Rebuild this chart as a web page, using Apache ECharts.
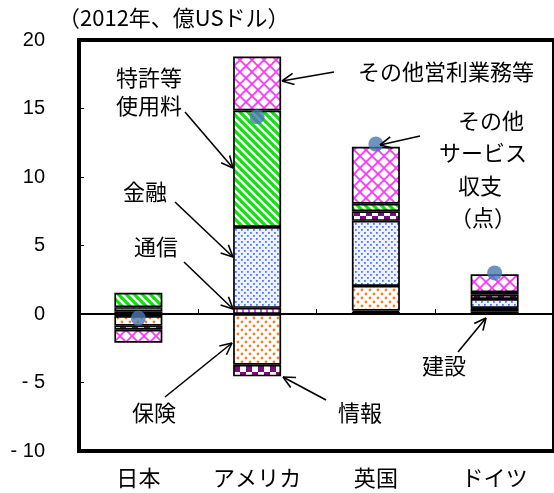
<!DOCTYPE html>
<html>
<head>
<meta charset="utf-8">
<script src="https://cdn.jsdelivr.net/npm/echarts@6/dist/echarts.min.js"></script>
<style>
  html, body { margin: 0; padding: 0; background: #fff; }
  #main { width: 554px; height: 493px; }
</style>
</head>
<body>
<div id="main"></div>
<script>
// サービス収支の内訳（2012年、億USドル）
const categories = ["日本", "アメリカ", "英国", "ドイツ"];
const construction = [0.2, 0, 0.15, 0.2];        // 建設
const communication = [-0.15, 0.45, 0.1, 0.2];   // 通信
const insurance = [-0.7, -3.7, 1.8, 0.05];       // 保険
const finance = [0.3, 5.9, 4.75, 0.65];          // 金融
const information = [-0.3, -0.85, 0.7, 0.3];     // 情報
const royalties = [1.05, 8.5, 0.55, 0.2];        // 特許等使用料
const otherBusiness = [-0.95, 3.95, 4.15, 1.3];  // その他営利業務等
const otherServices = [-0.3, 14.4, 12.4, 3.0];   // その他サービス収支（点）
const yTicks = [-10, -5, 0, 5, 10, 15, 20];

const CJK = '"Noto Sans CJK JP"';

// 塗りつぶしパターン
function pat(w, h, draw) {
  const c = document.createElement("canvas");
  c.width = w; c.height = h;
  const g = c.getContext("2d");
  g.fillStyle = "#fff";
  g.fillRect(0, 0, w, h);
  draw(g);
  return { image: c, repeat: "repeat" };
}
function seg(g, x1, y1, x2, y2) {
  g.beginPath(); g.moveTo(x1, y1); g.lineTo(x2, y2); g.stroke();
}
const patCross = pat(12, 12, g => {
  g.strokeStyle = "#ff33ff"; g.lineWidth = 1.7;
  seg(g, -1, -1, 13, 13); seg(g, 13, -1, -1, 13);
});
const patGreen = pat(8, 8, g => {
  g.strokeStyle = "#10e010"; g.lineWidth = 3.2;
  seg(g, -4, -4, 12, 12); seg(g, -4, 4, 4, 12); seg(g, 4, -4, 12, 4);
});
const patBlue = pat(6, 6, g => {
  g.fillStyle = "#eef2ff"; g.fillRect(0, 0, 6, 6);
  g.fillStyle = "#4f78ff";
  g.fillRect(1, 1, 1.8, 1.8); g.fillRect(4, 4, 1.8, 1.8);
});
const patStripe = pat(6, 4, g => {
  g.fillStyle = "#ff33ff"; g.fillRect(2, 0, 2, 4);
});
const patOrange = pat(8, 8, g => {
  g.fillStyle = "#ff7f27";
  g.beginPath(); g.arc(2, 2, 1.4, 0, Math.PI * 2); g.fill();
  g.beginPath(); g.arc(6, 6, 1.4, 0, Math.PI * 2); g.fill();
});
const patPurple = pat(12, 12, g => {
  g.fillStyle = "#7d0a7d";
  g.fillRect(0, 0, 6, 6); g.fillRect(6, 6, 6, 6);
});
const patDash = pat(8, 4, g => {
  g.fillStyle = "#10b040"; g.fillRect(0, 1, 4, 2);
  g.fillStyle = "#000"; g.fillRect(4, 1.5, 4, 1);
});

function barSeries(name, data, color) {
  return {
    name, type: "bar", stack: "total", data, barWidth: 48,
    itemStyle: { color, borderColor: "#000", borderWidth: 1.7 }
  };
}

// 注記の矢印
function line(x1, y1, x2, y2) {
  return { type: "line", z: 100, shape: { x1, y1, x2, y2 }, style: { stroke: "#000", lineWidth: 1.6 } };
}
function arrow(x1, y1, x2, y2) {
  const a = Math.atan2(y2 - y1, x2 - x1), L = 13, s = 0.45;
  return [
    line(x1, y1, x2, y2),
    line(x2, y2, x2 - L * Math.cos(a - s), y2 - L * Math.sin(a - s)),
    line(x2, y2, x2 - L * Math.cos(a + s), y2 - L * Math.sin(a + s))
  ];
}
function label(text, x, y, align) {
  return {
    type: "text", z: 100, x, y,
    style: { text, fontSize: 22, fontFamily: CJK, fill: "#000", align: align || "center", verticalAlign: "middle" }
  };
}

const graphics = [
  label("（2012年、億USドル）", 58, 18, "left"),
  label("その他営利業務等", 446, 72),
  label("特許等", 149, 78),
  label("使用料", 149, 106),
  label("金融", 145, 192),
  label("通信", 156, 247),
  label("保険", 154, 413),
  label("情報", 360, 413),
  label("その他", 491, 121),
  label("サービス", 483, 153),
  label("収支", 480, 186),
  label("（点）", 483, 218),
  label("建設", 444, 366),
  ...arrow(334, 72, 282, 81),
  ...arrow(185, 112, 233, 168),
  ...arrow(175, 202, 233, 257),
  ...arrow(184, 262, 233, 309),
  ...arrow(165, 397, 232, 343),
  ...arrow(326, 400, 283, 377),
  ...arrow(420, 136, 380, 145),
  ...arrow(458, 352, 486, 318)
];

const chart = echarts.init(document.getElementById("main"));
chart.setOption({
  animation: false,
  backgroundColor: "#fff",
  grid: { left: 79, right: -6, top: 40, bottom: 42, show: true, borderColor: "#000", borderWidth: 4 },
  xAxis: [
    {
      type: "category", data: categories, position: "bottom",
      axisLine: { show: false, onZero: false },
      axisTick: { show: false },
      axisLabel: { fontSize: 22, fontFamily: CJK, color: "#000", margin: 16 }
    },
    {
      type: "category", data: categories, position: "bottom",
      axisLine: { show: true, onZero: true, lineStyle: { color: "#000", width: 2 } },
      axisTick: { show: true, inside: true, length: 5, lineStyle: { color: "#000" } },
      axisLabel: { show: false }
    }
  ],
  yAxis: {
    type: "value", min: yTicks[0], max: yTicks[yTicks.length - 1], interval: 5,
    axisLine: { show: false },
    axisTick: { show: true, inside: true, length: 5, lineStyle: { color: "#000" } },
    splitLine: { show: false },
    axisLabel: {
      fontSize: 20, fontFamily: "Liberation Sans", color: "#000", margin: 34,
      formatter: v => (v < 0 ? "- " + (-v) : String(v))
    }
  },
  series: [
    barSeries("建設", construction, patDash),
    barSeries("通信", communication, patStripe),
    barSeries("保険", insurance, patOrange),
    barSeries("金融", finance, patBlue),
    barSeries("情報", information, patPurple),
    barSeries("特許等使用料", royalties, patGreen),
    barSeries("その他営利業務等", otherBusiness, patCross),
    {
      name: "その他サービス収支", type: "scatter", data: otherServices,
      symbolSize: 15, z: 10, itemStyle: { color: "#4a78b2" }
    }
  ],
  graphic: graphics
});
</script>
</body>
</html>
